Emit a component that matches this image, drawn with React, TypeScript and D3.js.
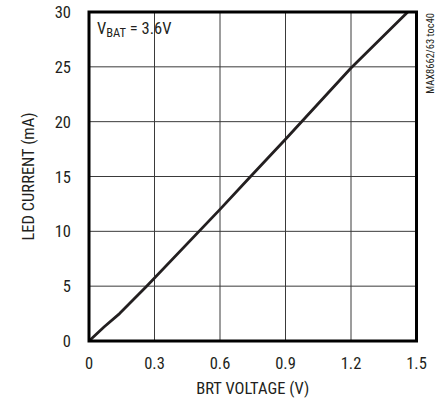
import React from "react";
import * as d3 from "d3";

const brtVoltage = [0, 0.07, 0.14, 0.264, 0.6, 0.74, 0.9, 1.2, 1.46];
const ledCurrent = [0, 1.3, 2.5, 5.0, 12.0, 15.0, 18.4, 24.9, 30.0];
const xTicks = [0, 0.3, 0.6, 0.9, 1.2, 1.5];
const yTicks = [0, 5, 10, 15, 20, 25, 30];
const xTickLabels = ["0", "0.3", "0.6", "0.9", "1.2", "1.5"];
const yTickLabels = ["0", "5", "10", "15", "20", "25", "30"];

const FONT = "'Liberation Sans Narrow', 'Roboto Condensed', 'Arial Narrow', sans-serif";

export default function App() {
  const W = 442, H = 404;
  const left = 89, right = 416.5, top = 12, bottom = 341;
  const x = d3.scaleLinear().domain([0, 1.5]).range([left, right]);
  const y = d3.scaleLinear().domain([0, 30]).range([bottom, top]);
  const pts = brtVoltage.map((v, i) => [v, ledCurrent[i]] as [number, number]);
  const line = d3.line<[number, number]>().x(d => x(d[0])).y(d => y(d[1]));

  return (
    <svg width={W} height={H} style={{ position: "absolute", left: 0, top: 0, background: "#fff" }}>
      <rect x={0} y={0} width={W} height={H} fill="#fff" />
      {xTicks.slice(1, -1).map(t => (
        <line key={"gx" + t} x1={x(t)} x2={x(t)} y1={top} y2={bottom} stroke="#3a3a3a" strokeWidth={1} />
      ))}
      {yTicks.slice(1, -1).map(t => (
        <line key={"gy" + t} x1={left} x2={right} y1={y(t)} y2={y(t)} stroke="#3a3a3a" strokeWidth={1} />
      ))}
      <path d={line(pts) || ""} fill="none" stroke="#231f20" strokeWidth={2.8} strokeLinejoin="round" />
      <rect x={left} y={top} width={right - left} height={bottom - top} fill="none" stroke="#000" strokeWidth={3} />
      {xTicks.map((t, i) => (
        <text key={"xl" + t} x={x(t)} y={369} textAnchor="middle" fontFamily={FONT} fontSize={16.5} fill="#231f20">
          {xTickLabels[i]}
        </text>
      ))}
      {yTicks.map((t, i) => (
        <text key={"yl" + t} x={71} y={y(t) + 6} textAnchor="end" fontFamily={FONT} fontSize={16.5} fill="#231f20">
          {yTickLabels[i]}
        </text>
      ))}
      <text x={(left + right) / 2} y={394} textAnchor="middle" fontFamily={FONT} fontSize={16.5} fill="#231f20">
        BRT VOLTAGE (V)
      </text>
      <text transform={`translate(34,${(top + bottom) / 2}) rotate(-90)`} textAnchor="middle" fontFamily={FONT} fontSize={16.5} fill="#231f20">
        LED CURRENT (mA)
      </text>
      <text x={97} y={34} fontFamily={FONT} fontSize={16.5} fill="#231f20">
        V<tspan fontSize={12.5} dy={3}>BAT</tspan><tspan dy={-3}> = 3.6V</tspan>
      </text>
      <text transform={`translate(434,13) rotate(-90)`} textAnchor="end" fontFamily={FONT} fontSize={10.5} fill="#231f20">
        MAX8662/63 toc40
      </text>
    </svg>
  );
}
